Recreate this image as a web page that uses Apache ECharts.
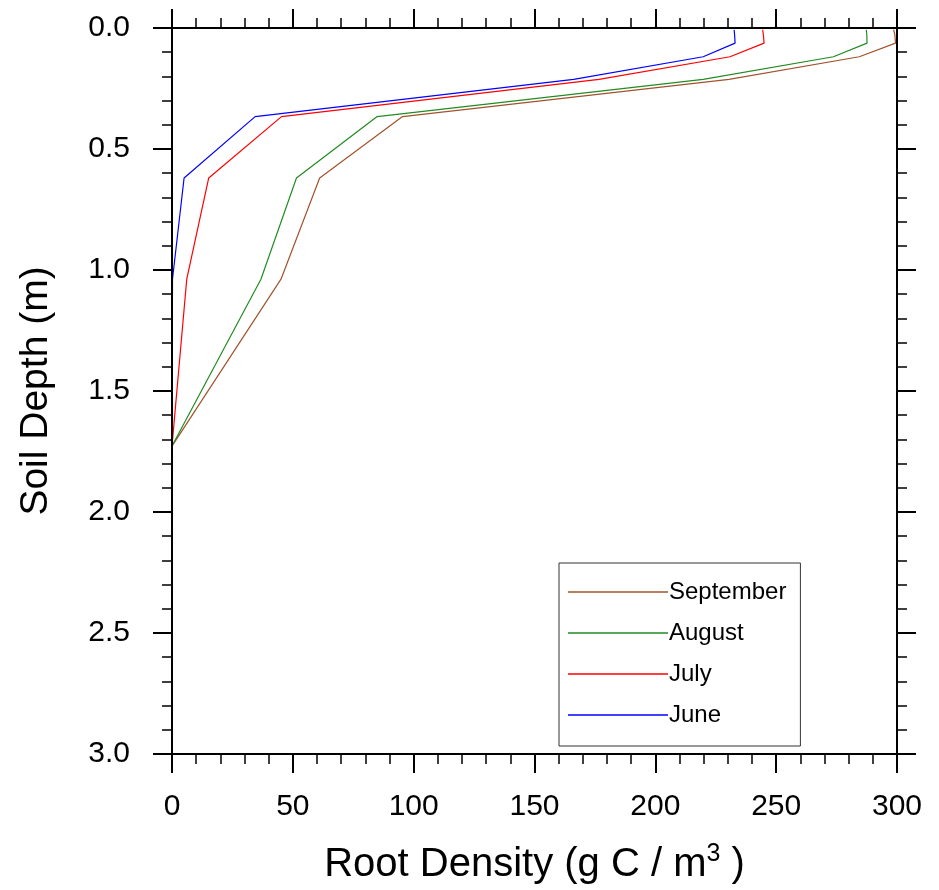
<!DOCTYPE html>
<html>
<head>
<meta charset="utf-8">
<script src="https://cdn.jsdelivr.net/npm/echarts@6/dist/echarts.min.js"></script>
<style>
  html, body { margin: 0; padding: 0; background: #fff; }
  #chart { width: 939px; height: 890px; }
</style>
</head>
<body>
<div id="chart"></div>
<script>
// Soil node depths (m)
const depths = [0.0071, 0.0279, 0.0623, 0.1189, 0.2122, 0.3661, 0.6198, 1.0380, 1.7276, 2.8647];

// Root density at each node (g C / m^3)
const september = [298.6, 299.1, 299.4, 284.4, 230.5, 95.4, 61.1, 45.1, 0, 0];
const august    = [287.3, 287.5, 287.6, 273.7, 219.8, 84.9, 51.5, 36.8, 0, 0];
const july      = [244.4, 244.7, 245.0, 230.9, 176.7, 45.3, 15.2, 6.1, 0, 0];
const june      = [232.6, 232.8, 233.0, 219.8, 166.2, 34.4, 5.0, 0.2, 0, 0];

const monthNames = ['September', 'August', 'July', 'June'];
const monthValues = [september, august, july, june];
const monthColors = ['#A0522D', '#228B22', '#FF0000', '#0000FF'];

const FONT = 'Liberation Sans';

function pairs(values) {
  return values.map((v, i) => [v, depths[i]]);
}

function xAxisDef(position, showLabel) {
  return {
    type: 'value', position: position, min: 0, max: 300, interval: 50, z: 5,
    axisLine: { show: true, onZero: false, lineStyle: { color: '#000', width: 2 } },
    axisTick: { show: true, inside: false, length: 19, lineStyle: { color: '#000', width: 2 } },
    minorTick: { show: true, splitNumber: 5, length: 10, lineStyle: { color: '#000', width: 1.5 } },
    splitLine: { show: false }, minorSplitLine: { show: false },
    axisLabel: { show: showLabel, margin: 38, fontFamily: FONT, fontSize: 30, color: '#000' }
  };
}

function yAxisDef(position, showLabel) {
  return {
    type: 'value', position: position, inverse: true, min: 0, max: 3, interval: 0.5, z: 5,
    axisLine: { show: true, onZero: false, lineStyle: { color: '#000', width: 2 } },
    axisTick: { show: true, inside: false, length: 19, lineStyle: { color: '#000', width: 2 } },
    minorTick: { show: true, splitNumber: 5, length: 10, lineStyle: { color: '#000', width: 1.5 } },
    splitLine: { show: false }, minorSplitLine: { show: false },
    axisLabel: { show: showLabel, margin: 42, fontFamily: FONT, fontSize: 30, color: '#000',
                 formatter: v => v.toFixed(1) }
  };
}

const xBottom = xAxisDef('bottom', true);
xBottom.name = 'Root Density (g C / m{sup|3} )';
xBottom.nameLocation = 'middle';
xBottom.nameGap = 88;
xBottom.nameTextStyle = {
  fontFamily: FONT, fontSize: 40, lineHeight: 46, color: '#000',
  rich: { sup: { fontFamily: FONT, fontSize: 25, color: '#000', verticalAlign: 'top', lineHeight: 25 } }
};

const yLeft = yAxisDef('left', true);
yLeft.name = 'Soil Depth (m)';
yLeft.nameLocation = 'middle';
yLeft.nameRotate = 90;
yLeft.nameGap = 116;
yLeft.nameTextStyle = { fontFamily: FONT, fontSize: 39, color: '#000' };

const series = monthNames.map((name, k) => ({
  name: name,
  type: 'line',
  xAxisIndex: 0,
  yAxisIndex: 0,
  data: pairs(monthValues[k]),
  symbol: 'none',
  showSymbol: false,
  lineStyle: { color: monthColors[k], width: 1.2 },
  itemStyle: { color: monthColors[k] },
  z: 2
}));

const chart = echarts.init(document.getElementById('chart'), null, { renderer: 'canvas' });
chart.setOption({
  backgroundColor: '#fff',
  animation: false,
  grid: { left: 172, top: 28, width: 725, height: 726, containLabel: false, outerBoundsMode: 'none' },
  xAxis: [xBottom, xAxisDef('top', false)],
  yAxis: [yLeft, yAxisDef('right', false)],
  legend: {
    data: monthNames.map(n => ({ name: n, icon: 'rect' })),
    orient: 'vertical',
    left: 559, top: 563,
    padding: [17, 14, 19, 9],
    itemWidth: 100, itemHeight: 1.5, itemGap: 17,
    borderColor: '#333', borderWidth: 1,
    backgroundColor: '#fff',
    textStyle: { fontFamily: FONT, fontSize: 24, color: '#000', padding: [0, 0, 0, -4] },
    selectedMode: false
  },
  series: series
});
</script>
</body>
</html>
